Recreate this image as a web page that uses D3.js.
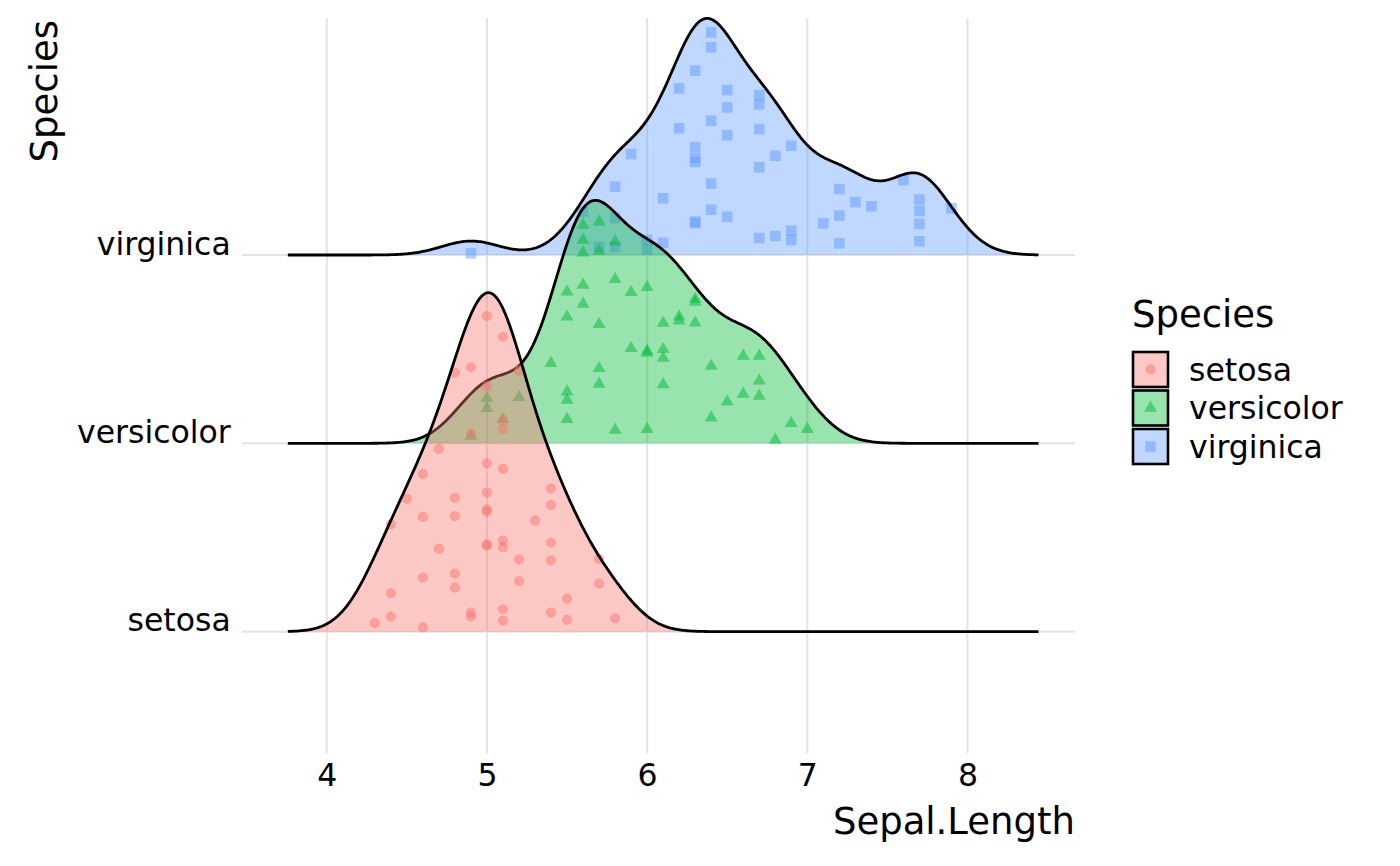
<!DOCTYPE html>
<html>
<head>
<meta charset="utf-8">
<script src="https://cdn.jsdelivr.net/npm/d3@7"></script>
<style>
  body { margin: 0; background: #fff; }
  svg { display: block; font-family: "DejaVu Sans", sans-serif; }
</style>
</head>
<body>
<div id="chart"></div>
<script>
// species, colours, tick labels
const speciesNames = ["setosa", "versicolor", "virginica"];
const speciesColors = ["#F8766D", "#00BA38", "#619CFF"];
const xTicks = [4, 5, 6, 7, 8];

// Sepal.Length per species, and the vertical jitter of each point (in ridge units)
const setosaLength = [4.3, 4.4, 4.4, 4.4, 4.5, 4.6, 4.6, 4.6, 4.6, 4.7, 4.7,
  4.8, 4.8, 4.8, 4.8, 4.8, 4.9, 4.9, 4.9, 4.9,
  5.0, 5.0, 5.0, 5.0, 5.0, 5.0, 5.0, 5.0,
  5.1, 5.1, 5.1, 5.1, 5.1, 5.1, 5.1, 5.1,
  5.2, 5.2, 5.2, 5.3, 5.4, 5.4, 5.4, 5.4, 5.4, 5.5, 5.5, 5.7, 5.7, 5.8];
const setosaJitter = [0.045, 0.570, 0.205, 0.080, 0.705, 0.837, 0.609, 0.287, 0.023, 0.970, 0.439,
  1.375, 0.710, 0.614, 0.308, 0.234, 1.404, 1.050, 0.101, 0.080,
  1.676, 1.304, 0.894, 0.738, 0.650, 0.636, 0.464, 0.457,
  1.566, 1.120, 1.075, 0.864, 0.483, 0.448, 0.119, 0.058,
  1.386, 0.384, 0.269, 0.589, 0.761, 0.673, 0.473, 0.379, 0.101, 0.175, 0.062, 0.386, 0.255, 0.071];

const versicolorLength = [4.9, 5.0, 5.0, 5.1, 5.2, 5.4,
  5.5, 5.5, 5.5, 5.5, 5.5, 5.6, 5.6, 5.6, 5.6, 5.6, 5.7, 5.7, 5.7, 5.7, 5.7,
  5.8, 5.8, 5.8, 5.9, 5.9, 6.0, 6.0, 6.0, 6.0, 6.1, 6.1, 6.1, 6.1,
  6.2, 6.2, 6.3, 6.3, 6.3, 6.4, 6.4, 6.5, 6.6, 6.6, 6.7, 6.7, 6.7, 6.8, 6.9, 7.0];
const versicolorJitter = [0.039, 0.239, 0.186, 0.128, 0.244, 0.425,
  0.805, 0.672, 0.274, 0.230, 0.128, 1.159, 1.080, 1.012, 0.841, 0.740, 1.177, 1.021, 0.632, 0.398, 0.315,
  1.071, 0.871, 0.071, 0.802, 0.505, 0.829, 0.490, 0.480, 0.075, 0.639, 0.499, 0.453, 0.312,
  0.672, 0.651, 0.766, 0.750, 0.640, 0.410, 0.136, 0.221, 0.464, 0.262, 0.464, 0.332, 0.251, 0.018, 0.106, 0.075];

const virginicaLength = [4.9, 5.6, 5.7, 5.8, 5.8, 5.8, 5.9, 6.0, 6.0, 6.1, 6.1, 6.2, 6.2,
  6.3, 6.3, 6.3, 6.3, 6.3, 6.3, 6.4, 6.4, 6.4, 6.4, 6.4, 6.5, 6.5, 6.5, 6.5,
  6.7, 6.7, 6.7, 6.7, 6.7, 6.8, 6.8, 6.9, 6.9, 6.9, 7.1, 7.2, 7.2, 7.2,
  7.3, 7.4, 7.6, 7.7, 7.7, 7.7, 7.7, 7.9];
const virginicaJitter = [0.009, 0.230, 0.044, 0.363, 0.196, 0.042, 0.536, 0.080, 0.027, 0.301, 0.065, 0.885, 0.673,
  0.979, 0.573, 0.515, 0.494, 0.177, 0.170, 1.182, 1.103, 0.713, 0.379, 0.241, 0.876, 0.784, 0.636, 0.203,
  0.849, 0.800, 0.669, 0.466, 0.090, 0.527, 0.101, 0.580, 0.129, 0.080, 0.168, 0.350, 0.209, 0.062,
  0.281, 0.259, 0.398, 0.294, 0.234, 0.165, 0.073, 0.248];

const lengths = [setosaLength, versicolorLength, virginicaLength];
const jitters = [setosaJitter, versicolorJitter, virginicaJitter];

// ggridges: "Picking joint bandwidth of 0.181", scale = 1.8
const bandwidth = 0.181;
const ridgeScale = 1.8;

const width = 1400;
const height = 866;
const panel = { left: 241.7, right: 1075, top: 18.3, bottom: 753.3 };

const svg = d3.select("#chart").append("svg")
  .attr("width", width)
  .attr("height", height);

const x = d3.scaleLinear().domain([3.469, 8.671]).range([panel.left, panel.right]);
const y = d3.scaleLinear().domain([0.354, 4.257]).range([panel.bottom, panel.top]);

// gaussian kernel density on a shared grid (like stat_density_ridges)
const allValues = lengths.flat();
const from = d3.min(allValues) - 3 * bandwidth;
const to = d3.max(allValues) + 3 * bandwidth;
const grid = d3.range(512).map((i) => from + (i * (to - from)) / 511);
const gauss = (u) => Math.exp(-0.5 * u * u) / Math.sqrt(2 * Math.PI);
const densities = lengths.map((vals) =>
  grid.map((g) => ({ x: g, d: d3.mean(vals, (v) => gauss((g - v) / bandwidth)) / bandwidth }))
);
const maxDensity = d3.max(densities, (ds) => d3.max(ds, (p) => p.d));

// grid lines
const gridColor = "#e3e3e3";
svg.append("g").selectAll("line")
  .data(xTicks)
  .enter().append("line")
  .attr("x1", (d) => x(d)).attr("x2", (d) => x(d))
  .attr("y1", panel.top).attr("y2", panel.bottom)
  .attr("stroke", gridColor).attr("stroke-width", 2);

svg.append("g").selectAll("line")
  .data(speciesNames)
  .enter().append("line")
  .attr("x1", panel.left).attr("x2", panel.right)
  .attr("y1", (d, i) => y(i + 1)).attr("y2", (d, i) => y(i + 1))
  .attr("stroke", gridColor).attr("stroke-width", 2);

const symbols = [d3.symbolCircle, d3.symbolTriangle, d3.symbolSquare];
const symbolSizes = [82, 72, 112];

// ridges: top one first so lower ridges overlap it
[2, 1, 0].forEach((i) => {
  const base = i + 1;
  const toH = (d) => (d / maxDensity) * ridgeScale;
  const g = svg.append("g");

  g.append("path")
    .datum(densities[i])
    .attr("d", d3.area()
      .x((p) => x(p.x))
      .y0(y(base))
      .y1((p) => y(base + toH(p.d))))
    .attr("fill", speciesColors[i])
    .attr("fill-opacity", 0.4);

  g.selectAll("path.pt")
    .data(lengths[i].map((v, k) => ({ v: v, h: jitters[i][k] })))
    .enter().append("path")
    .attr("class", "pt")
    .attr("d", d3.symbol().type(symbols[i]).size(symbolSizes[i]))
    .attr("transform", (d) => `translate(${x(d.v)},${y(base + d.h)})`)
    .attr("fill", speciesColors[i])
    .attr("fill-opacity", 0.5);

  g.append("path")
    .datum(densities[i])
    .attr("d", d3.line()
      .x((p) => x(p.x))
      .y((p) => y(base + toH(p.d))))
    .attr("fill", "none")
    .attr("stroke", "#000")
    .attr("stroke-width", 2.8);
});

// axes
const xAxis = svg.append("g")
  .attr("transform", `translate(0,${panel.bottom})`)
  .call(d3.axisBottom(x).tickValues(xTicks).tickFormat(d3.format("d"))
    .tickSize(0).tickPadding(10.8));
xAxis.select(".domain").remove();
xAxis.selectAll("text")
  .attr("font-size", 31.5)
  .attr("font-family", "DejaVu Sans")
  .attr("fill", "#000");

const yAxis = svg.append("g")
  .attr("transform", `translate(${panel.left},0)`)
  .call(d3.axisLeft(y).tickValues([1, 2, 3]).tickSize(0).tickPadding(11)
    .tickFormat((d) => speciesNames[d - 1]));
yAxis.select(".domain").remove();
yAxis.selectAll("text")
  .attr("font-size", 31.5)
  .attr("font-family", "DejaVu Sans")
  .attr("fill", "#000")
  .attr("dy", 0)
  .attr("y", -1);

// axis titles
svg.append("text")
  .attr("x", panel.right)
  .attr("y", 834)
  .attr("text-anchor", "end")
  .attr("font-size", 37)
  .text("Sepal.Length");

svg.append("text")
  .attr("transform", "translate(56.7,20) rotate(-90)")
  .attr("text-anchor", "end")
  .attr("font-size", 37)
  .text("Species");

// legend
const legend = svg.append("g").attr("transform", "translate(1133,0)");
legend.append("text")
  .attr("x", -1)
  .attr("y", 326.7)
  .attr("font-size", 37)
  .text("Species");

const keys = legend.selectAll("g.key")
  .data(speciesNames)
  .enter().append("g")
  .attr("class", "key")
  .attr("transform", (d, i) => `translate(0,${352 + i * 38.5})`);

keys.append("rect")
  .attr("width", 35).attr("height", 35)
  .attr("fill", "#fff")
  .attr("stroke", "none");
keys.append("rect")
  .attr("width", 35).attr("height", 35)
  .attr("fill", (d, i) => speciesColors[i])
  .attr("fill-opacity", 0.4)
  .attr("stroke", "#000")
  .attr("stroke-width", 2.6);
keys.append("path")
  .attr("d", (d, i) => d3.symbol().type(symbols[i]).size(symbolSizes[i])())
  .attr("transform", "translate(17.5,17.5)")
  .attr("fill", (d, i) => speciesColors[i])
  .attr("fill-opacity", 0.5);
keys.append("text")
  .attr("x", 56)
  .attr("y", 17.5)
  .attr("dy", "0.36em")
  .attr("font-size", 31.5)
  .text((d) => d);
</script>
</body>
</html>
